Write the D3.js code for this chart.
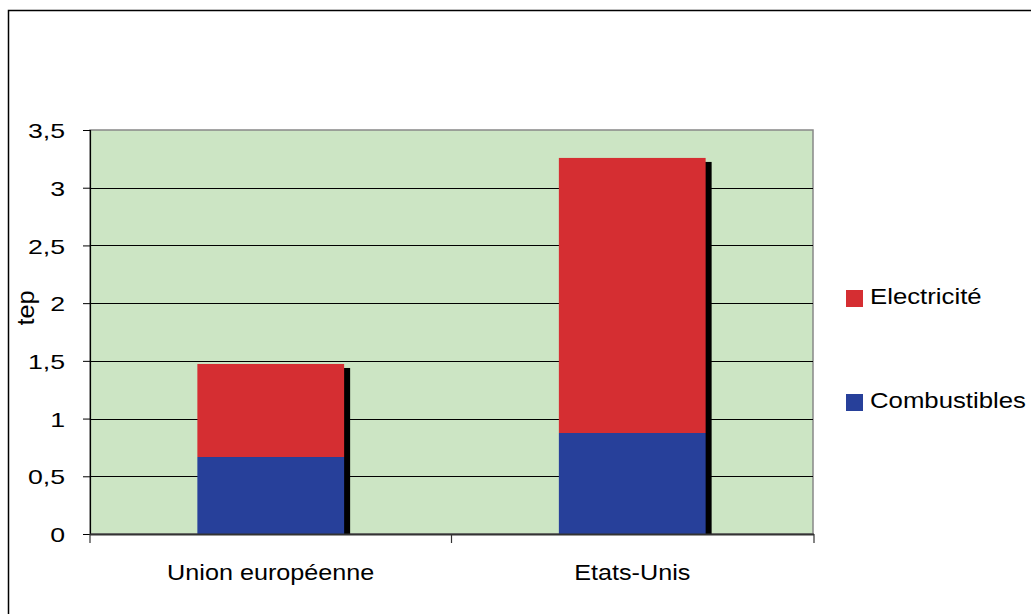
<!DOCTYPE html>
<html><head><meta charset="utf-8">
<script src="https://cdn.jsdelivr.net/npm/d3@7"></script>
<style>body{margin:0;background:#fff}svg{display:block}</style>
</head><body>
<svg id="c" width="1031" height="614"></svg>
<script>
const categories = ["Union européenne", "Etats-Unis"];
const combustibles = [0.667, 0.875];
const electricite = [0.806, 2.383];
const yTicks = [0, 0.5, 1, 1.5, 2, 2.5, 3, 3.5];
const seriesNames = ["Electricité", "Combustibles"];
const colors = {"Combustibles": "#27409A", "Electricité": "#D52E32"};

const svg = d3.select("#c");
const font = "'Liberation Sans', Arial, sans-serif";
const pLeft = 90, pRight = 813, pTop = 130, pBottom = 534;

// stretch text horizontally around its anchor point
function stretch(sel, sx) {
  sel.each(function() {
    const t = d3.select(this);
    const xx = +t.attr("x") || 0, yy = +t.attr("y") || 0;
    t.attr("x", 0).attr("y", 0).attr("transform", `translate(${xx},${yy}) scale(${sx},1)`);
  });
}

// outer frame
svg.append("rect").attr("x", 8.5).attr("y", 10.5).attr("width", 1100).attr("height", 700)
  .attr("fill", "none").attr("stroke", "#000").attr("stroke-width", 1.5);

const x = d3.scaleBand().domain(categories).range([pLeft, pRight]).paddingInner(0.594).paddingOuter(0.297);
const xb = d3.scaleBand().domain(categories).range([pLeft, pRight]);
const y = d3.scaleLinear().domain([0, 3.5]).range([pBottom, pTop]);

// plot area
svg.append("rect").attr("x", pLeft).attr("y", pTop).attr("width", pRight - pLeft).attr("height", pBottom - pTop)
  .attr("fill", "#CCE5C4").attr("stroke", "#888").attr("stroke-width", 1.5);

// gridlines
svg.append("g").selectAll("line").data(yTicks.filter(d => d > 0 && d < 3.5)).join("line")
  .attr("x1", pLeft).attr("x2", pRight).attr("y1", d => Math.round(y(d)) + 0.5).attr("y2", d => Math.round(y(d)) + 0.5)
  .attr("stroke", "#000").attr("stroke-width", 1);

const data = categories.map((c, i) => ({cat: c, comb: combustibles[i], elec: electricite[i]}));

// shadows
svg.append("g").selectAll("rect").data(data).join("rect")
  .attr("x", d => x(d.cat) + 6).attr("width", x.bandwidth())
  .attr("y", d => y(d.comb + d.elec) + 4).attr("height", d => pBottom - y(d.comb + d.elec) - 4)
  .attr("fill", "#000");

// stacked bars
const stack = d3.stack().keys(["comb", "elec"])(data);
const keyColor = {comb: colors["Combustibles"], elec: colors["Electricité"]};
svg.append("g").selectAll("g").data(stack).join("g").attr("fill", s => keyColor[s.key])
  .selectAll("rect").data(s => s).join("rect")
  .attr("x", d => x(d.data.cat)).attr("width", x.bandwidth())
  .attr("y", d => y(d[1])).attr("height", d => y(d[0]) - y(d[1]));

// y axis
const yAxis = svg.append("g").attr("transform", `translate(${pLeft},0)`)
  .call(d3.axisLeft(y).tickValues(yTicks).tickSize(7).tickPadding(18)
    .tickFormat(d => String(d).replace(".", ",")));
yAxis.select(".domain").attr("stroke", "#000").attr("stroke-width", 1.2);
yAxis.selectAll(".tick line").attr("stroke", "#000");
yAxis.selectAll("text").attr("font-family", font).attr("font-size", 21).attr("fill", "#000").attr("dy", "0.36em");
stretch(yAxis.selectAll("text"), 1.27);

// x axis
svg.append("line").attr("x1", pLeft).attr("x2", pRight + 1).attr("y1", pBottom + 0.5).attr("y2", pBottom + 0.5)
  .attr("stroke", "#333").attr("stroke-width", 2);
const xTickPos = [pLeft, xb(categories[1]), pRight + 1];
svg.append("g").selectAll("line").data(xTickPos).join("line")
  .attr("x1", d => d).attr("x2", d => d).attr("y1", pBottom).attr("y2", pBottom + 9)
  .attr("stroke", "#333").attr("stroke-width", 1.2);
const catText = svg.append("g").selectAll("text").data(categories).join("text")
  .attr("x", d => xb(d) + xb.bandwidth() / 2).attr("y", 580)
  .attr("text-anchor", "middle").attr("font-family", font).attr("font-size", 22.5).attr("fill", "#000")
  .text(d => d);
stretch(catText, 1.12);

// y label
svg.append("text").attr("transform", "translate(34,308) rotate(-90) scale(1.1,1)")
  .attr("text-anchor", "middle").attr("font-family", font).attr("font-size", 23).text("tep");

// legend
const lg = svg.append("g").selectAll("g").data(seriesNames).join("g")
  .attr("transform", (d, i) => `translate(846,${290 + i * 104})`);
lg.append("rect").attr("width", 17).attr("height", 17).attr("fill", d => colors[d]);
const lt = lg.append("text").attr("x", 24).attr("y", 14).attr("font-family", font).attr("font-size", 23).text(d => d);
stretch(lt, 1.12);
</script>
</body></html>
